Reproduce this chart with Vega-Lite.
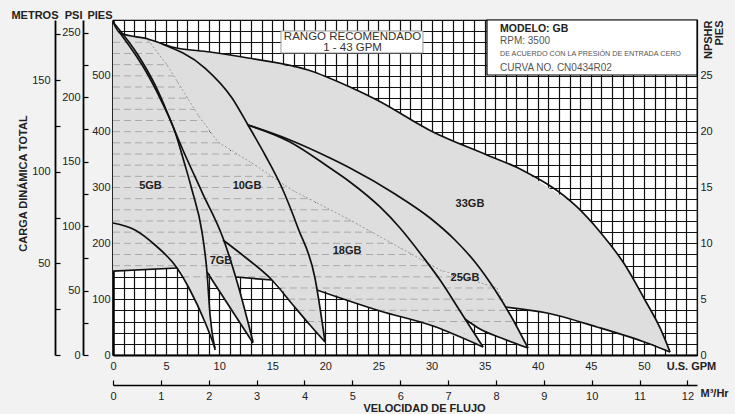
{
  "$schema": "https://vega.github.io/schema/vega-lite/v6.json",
  "width": 584,
  "height": 335,
  "autosize": {"type": "none"},
  "padding": {"left": 113, "top": 20, "right": 38, "bottom": 59},
  "background": "#f2f2f2",
  "config": {
    "axis": {"labelFont": "Liberation Sans", "labelFontSize": 11, "labelColor": "#222", "titleFont": "Liberation Sans", "titleFontSize": 11, "titleFontWeight": "bold", "titleColor": "#222"},
    "text": {"font": "Liberation Sans"},
    "view": {"stroke": "#000", "strokeWidth": 1.2, "fill": "#ffffff"}
  },
  "datasets": {
    "regions": [
      {"piece":"lower","gpm":0,"ft":596.4,"ft2":150.4},
      {"piece":"lower","gpm":0.659,"ft":576.7,"ft2":151.0},
      {"piece":"lower","gpm":3.296,"ft":566.0,"ft2":153.3},
      {"piece":"lower","gpm":5.086,"ft":519.4,"ft2":154.9},
      {"piece":"lower","gpm":5.557,"ft":504.9,"ft2":155.5},
      {"piece":"lower","gpm":6.028,"ft":490.6,"ft2":155.8},
      {"piece":"lower","gpm":7.252,"ft":453.0,"ft2":116.4},
      {"piece":"lower","gpm":8.005,"ft":429.9,"ft2":86.3},
      {"piece":"lower","gpm":8.194,"ft":425.0,"ft2":78.8},
      {"piece":"lower","gpm":8.843,"ft":408.4,"ft2":49.8},
      {"piece":"lower","gpm":8.853,"ft":408.0,"ft2":148.7},
      {"piece":"lower","gpm":9.606,"ft":388.7,"ft2":126.6},
      {"piece":"lower","gpm":9.889,"ft":381.5,"ft2":118.2},
      {"piece":"lower","gpm":10.548,"ft":373.6,"ft2":98.9},
      {"piece":"lower","gpm":11.49,"ft":362.5,"ft2":71.3},
      {"piece":"lower","gpm":11.491,"ft":362.5,"ft2":139.7},
      {"piece":"lower","gpm":12.714,"ft":348.2,"ft2":137.7},
      {"piece":"lower","gpm":13.373,"ft":340.3,"ft2":136.8},
      {"piece":"lower","gpm":14.974,"ft":319.7,"ft2":134.3},
      {"piece":"lower","gpm":16.858,"ft":295.5,"ft2":91.7},
      {"piece":"lower","gpm":16.952,"ft":294.6,"ft2":89.6},
      {"piece":"lower","gpm":18.365,"ft":280.7,"ft2":58.0},
      {"piece":"lower","gpm":18.553,"ft":278.9,"ft2":53.7},
      {"piece":"lower","gpm":19.213,"ft":272.4,"ft2":39.6},
      {"piece":"lower","gpm":19.214,"ft":272.4,"ft2":116.4},
      {"piece":"lower","gpm":22.321,"ft":241.8,"ft2":96.7},
      {"piece":"lower","gpm":25.146,"ft":211.9,"ft2":78.8},
      {"piece":"lower","gpm":30.137,"ft":159.2,"ft2":51.9},
      {"piece":"lower","gpm":30.797,"ft":152.2,"ft2":46.7},
      {"piece":"lower","gpm":33.151,"ft":138.1,"ft2":29.0},
      {"piece":"lower","gpm":33.152,"ft":138.1,"ft2":64.5},
      {"piece":"lower","gpm":34.564,"ft":129.7,"ft2":46.5},
      {"piece":"lower","gpm":35.223,"ft":125.7,"ft2":40.1},
      {"piece":"lower","gpm":36.165,"ft":120.0,"ft2":33.5},
      {"piece":"lower","gpm":36.918,"ft":87.8,"ft2":27.9},
      {"piece":"upper","gpm":3.296,"ft":566.0,"ft2":564.2},
      {"piece":"upper","gpm":5.086,"ft":554.7,"ft2":519.4},
      {"piece":"upper","gpm":5.557,"ft":551.7,"ft2":504.9},
      {"piece":"upper","gpm":6.028,"ft":550.4,"ft2":490.6},
      {"piece":"upper","gpm":7.252,"ft":547.4,"ft2":453.0},
      {"piece":"upper","gpm":8.005,"ft":545.6,"ft2":429.9},
      {"piece":"upper","gpm":8.853,"ft":543.4,"ft2":408.0},
      {"piece":"upper","gpm":9.889,"ft":540.4,"ft2":381.5},
      {"piece":"upper","gpm":11.49,"ft":535.7,"ft2":362.5},
      {"piece":"upper","gpm":12.714,"ft":532.0,"ft2":348.2},
      {"piece":"upper","gpm":13.373,"ft":529.5,"ft2":340.3},
      {"piece":"upper","gpm":14.974,"ft":523.4,"ft2":319.7},
      {"piece":"upper","gpm":16.858,"ft":516.2,"ft2":295.5},
      {"piece":"upper","gpm":18.365,"ft":510.5,"ft2":280.7},
      {"piece":"upper","gpm":19.213,"ft":504.0,"ft2":272.4},
      {"piece":"upper","gpm":22.321,"ft":480.0,"ft2":241.8},
      {"piece":"upper","gpm":24.863,"ft":456.7,"ft2":214.9},
      {"piece":"upper","gpm":25.146,"ft":453.7,"ft2":211.9},
      {"piece":"upper","gpm":30.137,"ft":399.4,"ft2":159.2},
      {"piece":"upper","gpm":30.797,"ft":394.0,"ft2":152.2},
      {"piece":"upper","gpm":33.151,"ft":375.1,"ft2":138.1},
      {"piece":"upper","gpm":34.564,"ft":363.6,"ft2":129.7},
      {"piece":"upper","gpm":35.223,"ft":358.2,"ft2":125.7},
      {"piece":"upper","gpm":36.165,"ft":350.5,"ft2":120.0},
      {"piece":"upper","gpm":36.918,"ft":344.4,"ft2":87.8},
      {"piece":"upper","gpm":36.919,"ft":344.4,"ft2":86.0},
      {"piece":"upper","gpm":38.52,"ft":331.4,"ft2":81.7},
      {"piece":"upper","gpm":40.874,"ft":301.3,"ft2":75.2},
      {"piece":"upper","gpm":43.699,"ft":265.1,"ft2":60.2},
      {"piece":"upper","gpm":45.583,"ft":226.2,"ft2":50.2},
      {"piece":"upper","gpm":45.865,"ft":220.3,"ft2":48.4},
      {"piece":"upper","gpm":48.22,"ft":161.2,"ft2":34.0},
      {"piece":"upper","gpm":50.104,"ft":98.5,"ft2":22.6},
      {"piece":"upper","gpm":50.292,"ft":91.9,"ft2":21.5},
      {"piece":"upper","gpm":51.516,"ft":48.4,"ft2":14.3},
      {"piece":"upper","gpm":52.458,"ft":5.4,"ft2":5.4},
      {"piece":"w1","gpm":8.853,"ft":148.7,"ft2":49.8},
      {"piece":"w1","gpm":9.135,"ft":71.6,"ft2":35.8},
      {"piece":"w1","gpm":9.418,"ft":34.0,"ft2":21.5},
      {"piece":"w1","gpm":9.606,"ft":10.7,"ft2":10.7},
      {"piece":"w2","gpm":11.49,"ft":139.7,"ft2":71.3},
      {"piece":"w2","gpm":11.773,"ft":125.4,"ft2":63.0},
      {"piece":"w2","gpm":12.432,"ft":77.7,"ft2":43.5},
      {"piece":"w2","gpm":12.903,"ft":43.7,"ft2":29.7},
      {"piece":"w2","gpm":13.185,"ft":23.3,"ft2":21.5},
      {"piece":"w3","gpm":19.213,"ft":115.0,"ft2":39.6},
      {"piece":"w3","gpm":19.495,"ft":80.6,"ft2":33.5},
      {"piece":"w3","gpm":19.966,"ft":23.3,"ft2":23.3},
      {"piece":"w4","gpm":33.151,"ft":64.8,"ft2":29.0},
      {"piece":"w4","gpm":34.093,"ft":36.7,"ft2":20.4},
      {"piece":"w4","gpm":34.847,"ft":14.3,"ft2":14.3},
      {"piece":"w5","gpm":36.918,"ft":86.9,"ft2":27.9},
      {"piece":"w5","gpm":37.578,"ft":66.3,"ft2":23.3},
      {"piece":"w5","gpm":38.331,"ft":39.4,"ft2":17.9},
      {"piece":"w5","gpm":39.085,"ft":12.5,"ft2":12.5}
    ],
    "hlines": [
      {"ft":560,"gpm":0,"gpm2":3.47},
      {"ft":540,"gpm":0,"gpm2":4.27},
      {"ft":520,"gpm":0,"gpm2":5.07},
      {"ft":500,"gpm":0,"gpm2":5.72},
      {"ft":480,"gpm":0,"gpm2":6.37},
      {"ft":460,"gpm":0,"gpm2":7.03},
      {"ft":440,"gpm":0,"gpm2":7.68},
      {"ft":420,"gpm":0,"gpm2":8.39},
      {"ft":400,"gpm":0,"gpm2":9.17},
      {"ft":380,"gpm":0,"gpm2":10.02},
      {"ft":360,"gpm":0,"gpm2":11.71},
      {"ft":340,"gpm":0,"gpm2":13.39},
      {"ft":320,"gpm":0,"gpm2":14.95},
      {"ft":300,"gpm":0,"gpm2":16.51},
      {"ft":280,"gpm":0,"gpm2":18.44},
      {"ft":260,"gpm":0,"gpm2":20.47},
      {"ft":240,"gpm":0,"gpm2":22.49},
      {"ft":220,"gpm":0,"gpm2":24.38},
      {"ft":200,"gpm":0,"gpm2":26.27},
      {"ft":180,"gpm":0,"gpm2":28.17},
      {"ft":160,"gpm":0,"gpm2":30.06},
      {"ft":140,"gpm":6.52,"gpm2":32.83},
      {"ft":120,"gpm":15.6,"gpm2":36.17},
      {"ft":100,"gpm":16.49,"gpm2":19.33},
      {"ft":100,"gpm":21.8,"gpm2":36.9},
      {"ft":80,"gpm":17.38,"gpm2":19.5},
      {"ft":80,"gpm":24.96,"gpm2":37.1},
      {"ft":60,"gpm":18.3,"gpm2":19.6},
      {"ft":60,"gpm":28.64,"gpm2":37.7}
    ],
    "curves": [
      {"curve":"L5","gpm":0,"ft":596.4},{"curve":"L5","gpm":2.35,"ft":537.3},{"curve":"L5","gpm":3.96,"ft":483.6},{"curve":"L5","gpm":5.09,"ft":435.2},{"curve":"L5","gpm":5.84,"ft":399.4},{"curve":"L5","gpm":6.78,"ft":340.3},{"curve":"L5","gpm":7.44,"ft":295.5},{"curve":"L5","gpm":8.38,"ft":220.3},{"curve":"L5","gpm":8.85,"ft":148.7},{"curve":"L5","gpm":9.14,"ft":71.6},{"curve":"L5","gpm":9.61,"ft":9.0},
      {"curve":"L7","gpm":0.66,"ft":576.7},{"curve":"L7","gpm":3.3,"ft":501.5},{"curve":"L7","gpm":5.18,"ft":429.9},{"curve":"L7","gpm":6.5,"ft":370.8},{"curve":"L7","gpm":8.38,"ft":291.9},{"curve":"L7","gpm":10.36,"ft":209.6},{"curve":"L7","gpm":11.77,"ft":125.4},{"curve":"L7","gpm":13.19,"ft":23.3},
      {"curve":"L10","gpm":4.61,"ft":557.0},{"curve":"L10","gpm":8.66,"ft":514.0},{"curve":"L10","gpm":11.21,"ft":460.3},{"curve":"L10","gpm":12.71,"ft":412.0},{"curve":"L10","gpm":14.32,"ft":358.2},{"curve":"L10","gpm":15.92,"ft":299.1},{"curve":"L10","gpm":17.42,"ft":227.5},{"curve":"L10","gpm":19.02,"ft":137.9},{"curve":"L10","gpm":19.97,"ft":23.3},
      {"curve":"L18","gpm":12.71,"ft":412.0},{"curve":"L18","gpm":16.67,"ft":381.5},{"curve":"L18","gpm":20.44,"ft":334.9},{"curve":"L18","gpm":22.32,"ft":309.9},{"curve":"L18","gpm":25.15,"ft":265.1},{"curve":"L18","gpm":27.03,"ft":227.5},{"curve":"L18","gpm":29.2,"ft":175.5},{"curve":"L18","gpm":30.8,"ft":134.3},{"curve":"L18","gpm":32.68,"ft":78.8},{"curve":"L18","gpm":34.85,"ft":14.3},
      {"curve":"L25","gpm":12.71,"ft":412.0},{"curve":"L25","gpm":16.67,"ft":385.1},{"curve":"L25","gpm":20.44,"ft":352.8},{"curve":"L25","gpm":22.32,"ft":334.9},{"curve":"L25","gpm":26.56,"ft":288.4},{"curve":"L25","gpm":29.86,"ft":245.4},{"curve":"L25","gpm":32.21,"ft":206.0},{"curve":"L25","gpm":34.09,"ft":166.6},{"curve":"L25","gpm":35.98,"ft":116.4},{"curve":"L25","gpm":37.58,"ft":66.3},{"curve":"L25","gpm":39.08,"ft":12.5},
      {"curve":"T33","gpm":0,"ft":596.4},{"curve":"T33","gpm":0.66,"ft":576.7},{"curve":"T33","gpm":3.3,"ft":566.0},{"curve":"T33","gpm":5.56,"ft":551.7},{"curve":"T33","gpm":9.14,"ft":542.7},{"curve":"T33","gpm":12.71,"ft":532.0},{"curve":"T33","gpm":18.37,"ft":510.5},{"curve":"T33","gpm":22.32,"ft":480.0},{"curve":"T33","gpm":24.86,"ft":456.7},{"curve":"T33","gpm":30.14,"ft":399.4},{"curve":"T33","gpm":35.22,"ft":358.2},{"curve":"T33","gpm":38.52,"ft":331.4},{"curve":"T33","gpm":43.7,"ft":265.1},{"curve":"T33","gpm":45.87,"ft":220.3},{"curve":"T33","gpm":48.22,"ft":161.2},{"curve":"T33","gpm":50.1,"ft":98.5},{"curve":"T33","gpm":51.52,"ft":48.4},{"curve":"T33","gpm":52.46,"ft":5.4},
      {"curve":"c","gpm":0,"ft":236.4},{"curve":"c","gpm":2.07,"ft":223.9},{"curve":"c","gpm":3.96,"ft":197.0},{"curve":"c","gpm":6.03,"ft":155.8},{"curve":"c","gpm":7.25,"ft":116.4},{"curve":"c","gpm":8.66,"ft":59.1},{"curve":"c","gpm":9.61,"ft":12.5},
      {"curve":"d","gpm":10.36,"ft":206.0},{"curve":"d","gpm":12.43,"ft":175.5},{"curve":"d","gpm":14.97,"ft":134.3},{"curve":"d","gpm":16.95,"ft":89.6},{"curve":"d","gpm":18.55,"ft":53.7},{"curve":"d","gpm":19.97,"ft":23.3},
      {"curve":"h1","gpm":0,"ft":150.4},{"curve":"h1","gpm":6.03,"ft":155.8},
      {"curve":"w2","gpm":8.85,"ft":148.7},{"curve":"w2","gpm":13.19,"ft":21.5},
      {"curve":"h3","gpm":11.49,"ft":139.7},{"curve":"h3","gpm":14.97,"ft":134.3},
      {"curve":"b18","gpm":19.21,"ft":116.4},{"curve":"b18","gpm":25.15,"ft":78.8},{"curve":"b18","gpm":30.14,"ft":51.9},{"curve":"b18","gpm":34.85,"ft":14.3},
      {"curve":"b25","gpm":33.15,"ft":64.5},{"curve":"b25","gpm":34.56,"ft":46.5},{"curve":"b25","gpm":36.92,"ft":27.9},{"curve":"b25","gpm":39.08,"ft":12.5},
      {"curve":"b33","gpm":36.92,"ft":86.0},{"curve":"b33","gpm":40.87,"ft":75.2},{"curve":"b33","gpm":45.58,"ft":50.2},{"curve":"b33","gpm":50.29,"ft":21.5},{"curve":"b33","gpm":52.46,"ft":5.4},
      {"curve":"D","gpm":3.3,"ft":564.2},{"curve":"D","gpm":5.09,"ft":519.4},{"curve":"D","gpm":8.01,"ft":429.9},{"curve":"D","gpm":9.89,"ft":381.5},{"curve":"D","gpm":13.37,"ft":340.3},{"curve":"D","gpm":16.86,"ft":295.5},{"curve":"D","gpm":22.32,"ft":241.8},{"curve":"D","gpm":30.8,"ft":152.2},{"curve":"D","gpm":36.17,"ft":120.0},{"curve":"D","gpm":36.92,"ft":87.8}
    ],
    "labels": [
      {"gpm":3.53,"ft":302.7,"text":"5GB"},
      {"gpm":12.62,"ft":302.7,"text":"10GB"},
      {"gpm":10.17,"ft":168.4,"text":"7GB"},
      {"gpm":22.04,"ft":186.3,"text":"18GB"},
      {"gpm":33.15,"ft":137.9,"text":"25GB"},
      {"gpm":33.62,"ft":270.5,"text":"33GB"}
    ],
    "boxes": [
      {"box":"rango","gpm":15.82,"gpm2":29.19,"ft":580.3,"ft2":540.9},
      {"box":"modelo","gpm":35.22,"gpm2":55,"ft":600,"ft2":501.5}
    ],
    "notes": [
      {"kind":"rango","gpm":22.56,"ft":569.6,"text":"RANGO RECOMENDADO"},
      {"kind":"rango","gpm":22.56,"ft":549.9,"text":"1 - 43 GPM"},
      {"kind":"modelo","gpm":36.45,"ft":583.9,"text":"MODELO: GB"},
      {"kind":"rpm","gpm":36.45,"ft":562.4,"text":"RPM: 3500"},
      {"kind":"small","gpm":36.45,"ft":539.1,"text":"DE ACUERDO CON LA PRESIÓN DE ENTRADA CERO"},
      {"kind":"rpm","gpm":36.45,"ft":514.0,"text":"CURVA NO. CN0434R02"}
    ]
  },
  "resolve": {"scale": {"x": "independent", "y": "independent"}},
  "layer": [
    {
      "encoding": {
        "x": {"field": "gpm", "type": "quantitative", "scale": {"domain": [0, 55], "nice": false, "zero": false},
          "axis": {"orient": "bottom", "values": [0,1,2,3,4,5,6,7,8,9,10,11,12,13,14,15,16,17,18,19,20,21,22,23,24,25,26,27,28,29,30,31,32,33,34,35,36,37,38,39,40,41,42,43,44,45,46,47,48,49,50,51,52,53,54,55],
            "labelExpr": "datum.value == 55 ? 'U.S. GPM' : (datum.value % 5 == 0 ? datum.label : '')",
            "labelFlush": false, "labelOverlap": false, "labelBound": false, "ticks": false, "labelPadding": 5,
            "labelFontWeight": {"condition": {"test": "datum.value == 55", "value": "bold"}, "value": "normal"},
            "labelOffset": {"condition": {"test": "datum.value == 55", "value": -6}, "value": 0},
            "domain": true, "domainColor": "#000", "domainWidth": 2,
            "grid": true, "gridColor": "#111", "gridWidth": 1.2,
            "title": "VELOCIDAD DE FLUJO", "titleX": 311, "titleY": 53, "titleAlign": "center", "titleBaseline": "middle"}},
        "y": {"field": "ft", "type": "quantitative", "scale": {"domain": [0, 600], "nice": false, "zero": false},
          "axis": {"orient": "left", "values": [0,20,40,60,80,100,120,140,160,180,200,220,240,260,280,300,320,340,360,380,400,420,440,460,480,500,520,540,560,580,600],
            "labelExpr": "datum.value % 100 == 0 && datum.value <= 500 ? datum.label : ''",
            "labelOverlap": false, "ticks": false, "labelPadding": 3,
            "domain": true, "domainColor": "#000", "domainWidth": 2.5,
            "grid": true, "gridColor": "#111", "gridWidth": 1.2,
            "title": "PIES", "titleAngle": 0, "titleX": -1, "titleY": -2, "titleAlign": "right", "titleBaseline": "alphabetic"}}
      },
      "layer": [
        {"data": {"name": "regions"}, "transform": [{"filter": "datum.piece != 'upper'"}],
         "mark": {"type": "area", "color": "#dedede", "interpolate": "monotone"},
         "encoding": {"y2": {"field": "ft2"}, "detail": {"field": "piece"}}},
        {"data": {"name": "hlines"},
         "mark": {"type": "rule", "color": "#a9a9a9", "strokeWidth": 1, "strokeDash": [7, 4]},
         "encoding": {"x2": {"field": "gpm2"}}},
        {"data": {"name": "regions"}, "transform": [{"filter": "datum.piece == 'upper'"}],
         "mark": {"type": "area", "color": "#dedede", "interpolate": "monotone"},
         "encoding": {"y2": {"field": "ft2"}, "detail": {"field": "piece"}}},
        {"data": {"name": "curves"}, "transform": [{"filter": "datum.curve == 'D'"}],
         "mark": {"type": "line", "color": "#9a9a9a", "strokeWidth": 1, "strokeDash": [2, 2]},
         "encoding": {"detail": {"field": "curve"}}},
        {"data": {"name": "curves"}, "transform": [{"filter": "datum.curve != 'D'"}],
         "mark": {"type": "line", "color": "#111", "strokeWidth": 1.7, "interpolate": "monotone"},
         "encoding": {"detail": {"field": "curve"}}},
        {"data": {"name": "boxes"}, "transform": [{"filter": "datum.box == 'rango'"}],
         "mark": {"type": "rect", "fill": "#ffffff", "stroke": "#999", "strokeWidth": 1},
         "encoding": {"x2": {"field": "gpm2"}, "y2": {"field": "ft2"}}},
        {"data": {"name": "boxes"}, "transform": [{"filter": "datum.box == 'modelo'"}],
         "mark": {"type": "rect", "fill": "#ffffff", "stroke": "#000", "strokeWidth": 1.2},
         "encoding": {"x2": {"field": "gpm2"}, "y2": {"field": "ft2"}}},
        {"data": {"name": "labels"},
         "mark": {"type": "text", "font": "Liberation Sans", "fontSize": 11, "fontWeight": "bold", "color": "#222", "align": "center", "baseline": "middle"},
         "encoding": {"text": {"field": "text"}}},
        {"data": {"name": "notes"}, "transform": [{"filter": "datum.kind == 'rango'"}],
         "mark": {"type": "text", "font": "Liberation Sans", "fontSize": 11.5, "color": "#333", "align": "center", "baseline": "middle"},
         "encoding": {"text": {"field": "text"}}},
        {"data": {"name": "notes"}, "transform": [{"filter": "datum.kind == 'modelo'"}],
         "mark": {"type": "text", "font": "Liberation Sans", "fontSize": 10.5, "fontWeight": "bold", "color": "#222", "align": "left", "baseline": "middle"},
         "encoding": {"text": {"field": "text"}}},
        {"data": {"name": "notes"}, "transform": [{"filter": "datum.kind == 'rpm'"}],
         "mark": {"type": "text", "font": "Liberation Sans", "fontSize": 10, "color": "#555", "align": "left", "baseline": "middle"},
         "encoding": {"text": {"field": "text"}}},
        {"data": {"name": "notes"}, "transform": [{"filter": "datum.kind == 'small'"}],
         "mark": {"type": "text", "font": "Liberation Sans", "fontSize": 7.2, "color": "#555", "align": "left", "baseline": "middle"},
         "encoding": {"text": {"field": "text"}}}
      ]
    },
    {
      "data": {"values": [{"psi": 0}]},
      "mark": {"type": "point", "opacity": 0},
      "encoding": {"y": {"field": "psi", "type": "quantitative", "scale": {"domain": [0, 259.74], "nice": false, "zero": false},
        "axis": {"orient": "left", "offset": 30, "values": [0,25,50,75,100,125,150,175,200,225,250],
          "labelExpr": "datum.value % 50 == 0 ? datum.label : ''", "labelOverlap": false,
          "ticks": true, "tickSize": -5, "tickColor": "#000", "tickWidth": 1.2, "labelPadding": 8,
          "domain": true, "domainColor": "#000", "domainWidth": 1.8, "grid": false,
          "title": "PSI", "titleAngle": 0, "titleX": -1, "titleY": -2, "titleAlign": "right", "titleBaseline": "alphabetic"}}}
    },
    {
      "data": {"values": [{"m": 0}]},
      "mark": {"type": "point", "opacity": 0},
      "encoding": {"y": {"field": "m", "type": "quantitative", "scale": {"domain": [0, 182.88], "nice": false, "zero": false},
        "axis": {"orient": "left", "offset": 58, "values": [0,25,50,75,100,125,150,175],
          "labelExpr": "datum.value % 50 == 0 && datum.value > 0 ? datum.label : ''", "labelOverlap": false,
          "ticks": true, "tickSize": -5, "tickColor": "#000", "tickWidth": 1.2, "labelPadding": 10,
          "domain": true, "domainColor": "#000", "domainWidth": 1.8, "grid": false,
          "title": "METROS", "titleAngle": 0, "titleX": 3, "titleY": -2, "titleAlign": "right", "titleBaseline": "alphabetic"}}}
    },
    {
      "data": {"values": [{"m2": 0}]},
      "mark": {"type": "point", "opacity": 0},
      "encoding": {"y": {"field": "m2", "type": "quantitative", "scale": {"domain": [0, 182.88], "nice": false, "zero": false},
        "axis": {"orient": "left", "offset": 58, "labels": false, "ticks": false, "domain": false, "grid": false,
          "title": "CARGA DINÁMICA TOTAL", "titleAngle": 270, "titleX": -32, "titleY": 163, "titleAlign": "center", "titleBaseline": "middle"}}}
    },
    {
      "data": {"values": [{"npsh": 0}]},
      "mark": {"type": "point", "opacity": 0},
      "encoding": {"y": {"field": "npsh", "type": "quantitative", "scale": {"domain": [0, 30], "nice": false, "zero": false},
        "axis": {"orient": "right", "offset": 0, "values": [0,5,10,15,20,25], "labelOverlap": false,
          "ticks": false, "labelPadding": 3, "domain": false, "grid": false,
          "title": ["NPSHR", "PIES"], "titleAngle": 270, "titleX": 5, "titleY": 0, "titleAlign": "right", "titleBaseline": "top", "titleLineHeight": 11}}}
    },
    {
      "data": {"values": [{"m3": 0}]},
      "mark": {"type": "point", "opacity": 0},
      "encoding": {"x": {"field": "m3", "type": "quantitative", "scale": {"domain": [0, 12.2], "nice": false, "zero": false},
        "axis": {"orient": "bottom", "offset": 30, "values": [0,1,2,3,4,5,6,7,8,9,10,11,12],
          "labelFlush": false, "labelOverlap": false, "ticks": true, "tickSize": -5, "tickColor": "#000", "tickWidth": 1.2, "labelPadding": 10,
          "domain": true, "domainColor": "#000", "domainWidth": 1.5, "grid": false,
          "title": "M³/Hr", "titleX": 587, "titleY": 8, "titleAlign": "left", "titleBaseline": "middle"}}}
    }
  ]
}
